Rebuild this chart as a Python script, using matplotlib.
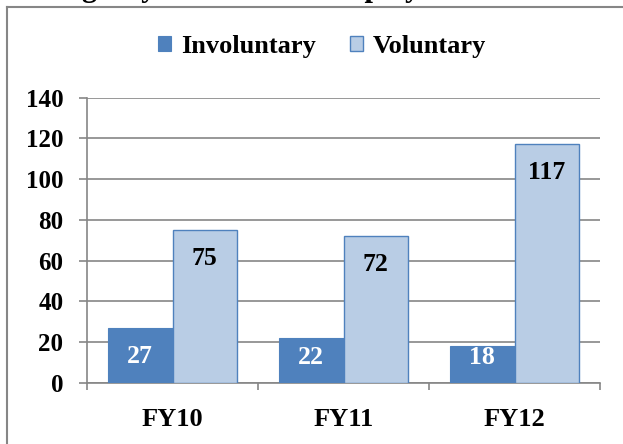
import numpy as np
import matplotlib
matplotlib.use('Agg')
import matplotlib.pyplot as plt
from matplotlib.lines import Line2D

# datos
years = ['FY10', 'FY11', 'FY12']
involuntary = [27, 22, 18]
voluntary = [75, 72, 117]
y_ticks = [0, 20, 40, 60, 80, 100, 120, 140]

plt.rcParams['font.family'] = ['Liberation Serif', 'DejaVu Serif']
plt.rcParams['font.weight'] = 'bold'

W, H = 623, 444
fig = plt.figure(figsize=(W / 100, H / 100), dpi=100)
ax = fig.add_axes([87 / W, 1 - 383 / H, (600 - 87) / W, (383 - 97.5) / H])

x = np.arange(len(years))
bw = 0.378
grid_col = '#868686'

b1 = ax.bar(x - bw / 2, involuntary, bw, color='#4F81BD', edgecolor='#4F81BD',
            linewidth=0.8, zorder=3, label='Involuntary')
b2 = ax.bar(x + bw / 2, voluntary, bw, color='#B9CDE5', edgecolor='#4F81BD',
            linewidth=1.0, zorder=3, label='Voluntary')

# etiquetas de datos
for xi, v in zip(x, involuntary):
    ax.text(xi - bw / 2, max(v - 14, 12.3), str(v), ha='center', va='center',
            color='white', fontsize=18.5, fontweight='bold', zorder=4)
for xi, v in zip(x, voluntary):
    ax.text(xi + bw / 2, v - 14, str(v), ha='center', va='center',
            color='black', fontsize=18.5, fontweight='bold', zorder=4)

ax.set_xlim(-0.5, len(years) - 0.5)
ax.set_ylim(0, 140)
ax.set_yticks(y_ticks)
ax.set_yticklabels([str(t) for t in y_ticks], fontsize=18, fontweight='bold')
ax.yaxis.grid(True, color=grid_col, linewidth=1.2, zorder=0)
ax.tick_params(axis='y', length=6, width=1.2, color=grid_col, pad=11)

ax.set_xticks(x)
ax.set_xticklabels(years, fontsize=19, fontweight='bold')
ax.tick_params(axis='x', which='major', length=0, pad=18)
ax.set_xticks(np.arange(-0.5, len(years)), minor=True)
ax.tick_params(axis='x', which='minor', length=5, width=1.2, color=grid_col)

for s in ['top', 'right']:
    ax.spines[s].set_visible(False)
for s in ['left', 'bottom']:
    ax.spines[s].set_color(grid_col)
    ax.spines[s].set_linewidth(1.2)

ax.legend(handles=[b1, b2], loc='center', bbox_to_anchor=(322 / W, 1 - 46 / H),
          bbox_transform=fig.transFigure, ncol=2, frameon=False,
          prop={'size': 19, 'weight': 'bold'}, handlelength=0.5, handleheight=0.5,
          handletextpad=0.35, columnspacing=1.3)

# borde del gráfico
fig.add_artist(Line2D([7 / W, 7 / W], [0, 1 - 7.5 / H], color=grid_col, linewidth=1.5))
fig.add_artist(Line2D([7 / W, 1], [1 - 7.5 / H, 1 - 7.5 / H], color=grid_col, linewidth=1.5))

# título cortado arriba (solo se ven los trazos inferiores, como en el original)
fig.text(60 / W, 1 + 4 / H, 'Agency Attrition of Employees', ha='left', va='baseline',
         fontsize=22, fontweight='bold')

fig.savefig('out.png', dpi=100)
